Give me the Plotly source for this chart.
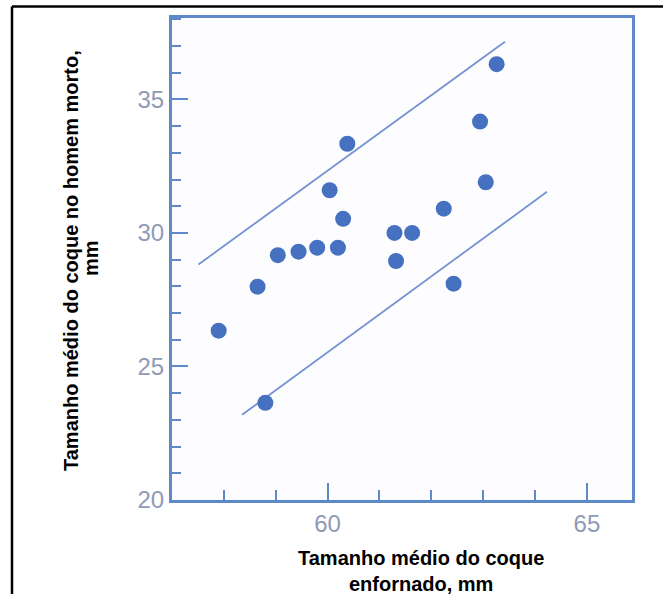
import plotly.graph_objects as go

# Data
coke_charged = [57.90, 58.65, 58.80, 59.04, 59.44, 59.80, 60.20, 60.04, 60.30, 60.38,
                61.29, 61.63, 61.32, 62.24, 62.43, 62.94, 63.05, 63.26]
coke_deadman = [26.34, 27.99, 23.64, 29.17, 29.30, 29.45, 29.45, 31.60, 30.53, 33.34,
                30.00, 30.00, 28.95, 30.91, 28.10, 34.17, 31.90, 36.32]
upper_x = [57.51, 63.42]
upper_y = [28.82, 37.16]
lower_x = [58.35, 64.23]
lower_y = [23.19, 31.54]

x_title = "<b>Tamanho médio do coque<br>enfornado, mm</b>"
y_title_1 = "<b>Tamanho médio do coque no homem morto,</b>"
y_title_2 = "<b>mm</b>"

W, H = 663, 594
ML, MR, MT, MB = 172, 31, 18, 94
PW, PH = W - ML - MR, H - MT - MB

def px(x):
    return (x - ML) / PW

def py(y):
    return (H - MB - y) / PH

axis_col = "#5f88c9"
dot_col = "#4670c0"
line_col = "#7393d2"
tick_font = dict(family="Liberation Sans, Arial", size=24, color="#8e9ab6")
title_font = dict(family="Liberation Sans, Arial", size=20, color="black")

fig = go.Figure()
fig.add_trace(go.Scatter(x=upper_x, y=upper_y, mode="lines",
                         line=dict(color=line_col, width=1.8), hoverinfo="skip"))
fig.add_trace(go.Scatter(x=lower_x, y=lower_y, mode="lines",
                         line=dict(color=line_col, width=1.8), hoverinfo="skip"))
fig.add_trace(go.Scatter(x=coke_charged, y=coke_deadman, mode="markers",
                         marker=dict(color=dot_col, size=16, line=dict(width=0))))

fig.update_layout(
    width=W, height=H,
    margin=dict(l=ML, r=MR, t=MT, b=MB, pad=0),
    paper_bgcolor="white", plot_bgcolor="#fdfdff",
    showlegend=False,
    xaxis=dict(range=[57.0, 65.87], showgrid=False, zeroline=False,
               showline=True, linecolor=axis_col, linewidth=3, mirror=True,
               ticks="inside", tickcolor=axis_col, tickwidth=2, ticklen=17,
               tick0=60, dtick=5, tickfont=tick_font,
               minor=dict(ticks="inside", dtick=1, tick0=60, ticklen=10,
                          tickwidth=2, tickcolor=axis_col, showgrid=False)),
    yaxis=dict(range=[20, 38.05], showgrid=False, zeroline=False,
               showline=True, linecolor=axis_col, linewidth=3, mirror=True,
               ticks="inside", tickcolor=axis_col, tickwidth=2, ticklen=16,
               tick0=20, dtick=5, tickfont=tick_font,
               minor=dict(ticks="inside", dtick=1, tick0=20, ticklen=9,
                          tickwidth=2, tickcolor=axis_col, showgrid=False)),
    annotations=[
        dict(text=x_title, x=px(421), y=py(545), xref="paper", yref="paper",
             xanchor="center", yanchor="top", showarrow=False,
             font=title_font, align="center"),
        dict(text=y_title_1, x=px(71), y=py(261), xref="paper", yref="paper",
             xanchor="center", yanchor="middle", showarrow=False, textangle=-90,
             font=title_font, align="center"),
        dict(text=y_title_2, x=px(91), y=py(258), xref="paper", yref="paper",
             xanchor="center", yanchor="middle", showarrow=False, textangle=-90,
             font=title_font, align="center"),
    ],
    shapes=[
        dict(type="line", xref="paper", yref="paper", x0=px(12), x1=px(W + 5),
             y0=py(6.5), y1=py(6.5), line=dict(color="black", width=2.5)),
        dict(type="line", xref="paper", yref="paper", x0=px(12), x1=px(12),
             y0=py(6.5), y1=py(H + 5), line=dict(color="black", width=2.5)),
    ],
)

fig.write_html("out.html")
